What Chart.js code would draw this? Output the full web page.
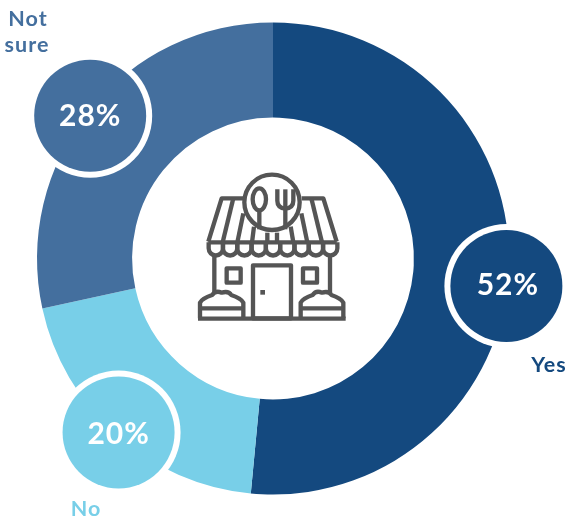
<!DOCTYPE html>
<html><head><meta charset="utf-8">
<style>html,body{margin:0;padding:0;background:#fff}canvas{display:block}</style>
<script src="https://cdn.jsdelivr.net/npm/chart.js@4"></script></head>
<body><canvas id="c" width="567" height="521"></canvas>
<script>
const categories = ["Yes", "No", "Not sure"];
const sliceShares = [51.5, 20.1, 28.4];
const printedPercents = ["52%", "20%", "28%"];
const sliceColors = ["#14497f", "#78cfe8", "#446f9e"];

const FONT = 'Lato, "Open Sans", sans-serif';

const badgeStyle = [
  { angle: 96.7, dist: 235, dx: 1.5, dy: -1, label: [[276, 107]] },
  { angle: 221.6, dist: 232.6, dx: 0, dy: 1.5, label: [[-187, 251]] },
  { angle: 308, dist: 232, dx: 0, dy: 1, label: [[-245, -239], [-246, -213]] }
];

function drawIcon(ctx) {
  ctx.save();
  ctx.scale(1 / 3, 1 / 3);
  ctx.strokeStyle = "#555555";
  ctx.fillStyle = "#555555";
  ctx.lineWidth = 13;
  ctx.lineJoin = "round";
  ctx.lineCap = "butt";
  const seg = pts => { ctx.beginPath(); pts.forEach((p, i) => i ? ctx.lineTo(p[0], p[1]) : ctx.moveTo(p[0], p[1])); ctx.stroke(); };
  // emblem
  ctx.beginPath(); ctx.arc(276, 127, 83, 0, Math.PI * 2); ctx.stroke();
  ctx.beginPath(); ctx.ellipse(238, 118, 20, 33, 0, 0, Math.PI * 2); ctx.stroke();
  seg([[238, 150], [238, 208]]);
  ctx.beginPath(); ctx.moveTo(292, 88); ctx.lineTo(292, 122); ctx.quadraticCurveTo(292, 143, 316, 146);
  ctx.quadraticCurveTo(340, 143, 340, 122); ctx.lineTo(340, 88); ctx.stroke();
  seg([[316, 88], [316, 208]]);
  // awning
  seg([[190, 115], [125, 115], [85, 245]]);
  seg([[365, 115], [430, 115], [470, 245]]);
  seg([[85, 247], [470, 247]]);
  seg([[160, 115], [128, 247]]);
  seg([[190, 160], [172, 247]]);
  seg([[222, 200], [216, 247]]);
  seg([[262, 218], [262, 247]]);
  seg([[291, 218], [291, 247]]);
  seg([[332, 200], [340, 247]]);
  seg([[364, 160], [382, 247]]);
  seg([[394, 115], [426, 247]]);
  // scallops
  for (let i = 0; i < 9; i++) {
    const x0 = 86 + i * 42.9, x1 = x0 + 42.9;
    ctx.beginPath(); ctx.moveTo(x0, 247); ctx.lineTo(x0, 265);
    ctx.arc((x0 + x1) / 2, 265, 21.45, Math.PI, 0, true);
    ctx.lineTo(x1, 247); ctx.stroke();
  }
  // walls
  seg([[103, 290], [103, 398]]);
  seg([[450, 290], [450, 398]]);
  ctx.strokeRect(140, 325, 42, 43);
  ctx.strokeRect(369, 325, 42, 43);
  ctx.strokeRect(219, 316, 114, 159);
  ctx.fillRect(241, 390, 14, 14);
  // planters
  const planter = (l, r) => {
    const w = r - l;
    ctx.beginPath(); ctx.moveTo(l, 475); ctx.lineTo(l, 428);
    ctx.quadraticCurveTo(l + w * .05, 415, l + w * .28, 405);
    ctx.quadraticCurveTo(l + w * .36, 390, l + w * .5, 398);
    ctx.quadraticCurveTo(l + w * .66, 392, l + w * .72, 405);
    ctx.quadraticCurveTo(l + w * .95, 415, r, 428);
    ctx.lineTo(r, 475); ctx.stroke();
    seg([[l, 445], [r, 445]]);
  };
  planter(60, 190);
  planter(362, 490);
  seg([[54, 476], [497, 476]]);
  ctx.restore();
}

const decorations = {
  id: "decorations",
  afterDatasetsDraw(chart) {
    const ctx = chart.ctx;
    const arc0 = chart.getDatasetMeta(0).data[0];
    const cx = arc0.x, cy = arc0.y;
    ctx.save();
    ctx.textAlign = "center";
    ctx.textBaseline = "middle";
    badgeStyle.forEach((b, i) => {
      const a = (b.angle - 90) * Math.PI / 180;
      const x = cx + b.dist * Math.cos(a), y = cy + b.dist * Math.sin(a);
      ctx.beginPath(); ctx.arc(x, y, 62, 0, Math.PI * 2); ctx.fillStyle = "#ffffff"; ctx.fill();
      ctx.beginPath(); ctx.arc(x, y, 56, 0, Math.PI * 2); ctx.fillStyle = sliceColors[i]; ctx.fill();
      ctx.fillStyle = "#ffffff";
      ctx.font = "700 30px " + FONT;
      ctx.letterSpacing = "1px";
      ctx.fillText(printedPercents[i], x + b.dx, y + b.dy);
      ctx.fillStyle = sliceColors[i];
      ctx.font = "700 21.5px " + FONT;
      const words = i === 2 ? categories[i].split(" ") : [categories[i]];
      words.forEach((w, j) => ctx.fillText(w, cx + b.label[j][0], cy + b.label[j][1]));
    });
    ctx.restore();
    ctx.save();
    ctx.translate(cx - 93, cy - 98.5);
    drawIcon(ctx);
    ctx.restore();
  }
};

new Chart(document.getElementById("c"), {
  type: "doughnut",
  data: {
    labels: categories,
    datasets: [{ data: sliceShares, backgroundColor: sliceColors, borderWidth: 0 }]
  },
  options: {
    responsive: false,
    animation: false,
    cutout: "59.7%",
    layout: { padding: { left: 37, right: 58, top: 22.5, bottom: 26.5 } },
    plugins: { legend: { display: false }, tooltip: { enabled: false } }
  },
  plugins: [decorations]
});
</script></body></html>
